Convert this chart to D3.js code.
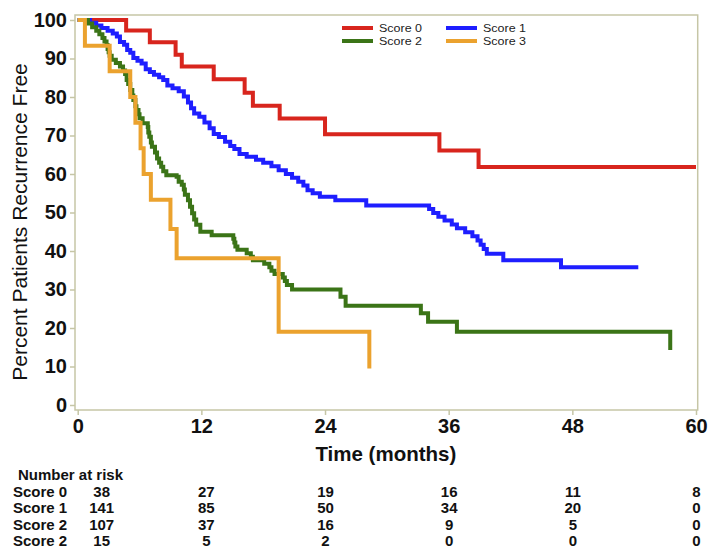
<!DOCTYPE html>
<html>
<head>
<meta charset="utf-8">
<script src="https://cdn.jsdelivr.net/npm/d3@7"></script>
<style>
  html, body { margin: 0; padding: 0; background: #ffffff; }
  svg { display: block; }
  text { font-family: "Liberation Sans", Arial, sans-serif; }
</style>
</head>
<body>
<svg id="chart" width="714" height="557"></svg>
<script>
// ---------------- DATA ----------------
const seriesNames = ["Score 0", "Score 1", "Score 2", "Score 3"];
const seriesColors = ["#d8251d", "#1e1eff", "#3b7417", "#eba22e"];

// Kaplan-Meier step points [time (months), percent recurrence free]
const score0 = [[0,100],[4.7,97.3],[7.0,94.2],[9.5,91.0],[10.1,87.9],[13.2,84.6],[16.2,81.1],[17.0,77.7],[19.6,74.4],[24.0,70.3],[35.1,66.1],[38.9,61.8],[60,61.8]];

const score1 = [[0,100],[1.2,99.3],[1.8,98.6],[2.3,97.9],[2.9,97.2],[3.4,96.5],[3.8,95.7],[4.1,94.3],[4.5,93.6],[4.8,92.2],[5.1,91.5],[5.4,90.1],[5.8,89.4],[6.2,88.7],[6.6,87.2],[7.0,86.5],[7.4,85.8],[7.9,85.1],[8.3,84.4],[8.7,83.0],[9.2,82.3],[9.8,81.5],[10.3,80.1],[10.7,78.6],[11.0,77.1],[11.3,75.7],[11.8,74.9],[12.3,73.4],[12.8,71.9],[13.2,70.4],[13.7,69.6],[14.3,68.4],[14.8,67.3],[15.2,66.5],[15.7,65.2],[16.4,64.5],[17.3,63.7],[18.0,62.9],[18.8,62.0],[19.5,61.0],[20.2,60.0],[20.8,59.0],[21.4,58.0],[21.9,57.0],[22.3,55.8],[22.8,55.0],[23.5,54.1],[25.0,53.2],[28.0,51.8],[34.1,50.9],[34.5,49.9],[35.0,48.9],[35.6,47.9],[36.3,46.9],[36.8,45.9],[37.6,44.9],[38.3,43.8],[38.8,42.7],[39.1,41.6],[39.4,40.5],[39.7,39.3],[41.3,37.6],[46.9,35.8],[54.4,35.8]];

const score2 = [[0,100],[1.0,99.1],[1.4,98.1],[1.8,97.2],[2.1,96.3],[2.4,95.3],[2.6,94.4],[2.8,93.5],[2.9,92.5],[3.0,91.6],[3.1,90.7],[3.3,89.7],[3.7,88.8],[4.1,87.9],[4.4,86.9],[4.6,86.0],[4.75,84.4],[4.9,83.4],[5.1,81.8],[5.3,80.4],[5.4,79.2],[5.6,77.6],[5.7,76.6],[5.9,75.5],[6.0,74.5],[6.3,73.2],[6.8,72.2],[6.85,70.8],[6.95,69.7],[7.1,68.2],[7.2,67.1],[7.5,65.6],[7.7,64.0],[7.9,62.9],[8.1,61.9],[8.3,60.7],[8.6,59.7],[9.6,59.3],[9.8,58.0],[10.1,57.2],[10.3,56.0],[10.4,54.6],[10.7,53.2],[10.9,51.5],[11.1,49.8],[11.3,48.2],[11.5,46.8],[11.9,45.0],[13.0,44.1],[15.1,43.2],[15.2,42.2],[15.3,41.2],[15.5,40.3],[16.4,39.4],[16.8,38.5],[17.0,37.6],[18.1,36.7],[18.6,35.8],[18.8,34.9],[19.1,34.0],[19.9,33.1],[20.1,32.2],[20.3,31.2],[20.8,30.0],[25.5,28.1],[26.0,25.8],[33.3,23.8],[34.0,21.6],[36.8,19.0],[57.5,14.3]];

const score3 = [[0,100],[0.7,93.3],[3.1,86.7],[5.1,80.0],[5.6,73.3],[6.1,66.7],[6.4,60.0],[7.1,53.3],[9.0,45.7],[9.6,38.1],[19.5,19.0],[28.3,9.5]];

const xTicks = [0, 12, 24, 36, 48, 60];
const yTicks = [0, 10, 20, 30, 40, 50, 60, 70, 80, 90, 100];

const riskTitle = "Number at risk";
const riskTimes = [0, 12, 24, 36, 48, 60];
const riskLabels = ["Score 0", "Score 1", "Score 2", "Score 2"];
const riskCounts = [
  [38, 27, 19, 16, 11, 8],
  [141, 85, 50, 34, 20, 0],
  [107, 37, 16, 9, 5, 0],
  [15, 5, 2, 0, 0, 0]
];

const xTitle = "Time (months)";
const yTitle = "Percent Patients Recurrence Free";

// ---------------- DRAW ----------------
const svg = d3.select("#chart");
const frameColor = "#c6c6a6";

const x = d3.scaleLinear().domain([0, 60]).range([77.7, 696]);
const y = d3.scaleLinear().domain([0, 100]).range([405, 20]);

// frame
const fx0 = x(0) - 2.7, fx1 = x(60) + 1.7, fy0 = y(100) - 5, fy1 = y(0) + 5;
svg.append("rect")
  .attr("x", fx0).attr("y", fy0)
  .attr("width", fx1 - fx0).attr("height", fy1 - fy0)
  .attr("fill", "none").attr("stroke", frameColor).attr("stroke-width", 1.5);

// y axis
const yAxis = d3.axisLeft(y).tickValues(yTicks).tickSize(5).tickPadding(3);
const gy = svg.append("g").attr("transform", `translate(${fx0},0)`).call(yAxis);
gy.select(".domain").remove();
gy.selectAll(".tick line").attr("stroke", frameColor).attr("stroke-width", 1.5);
gy.selectAll(".tick text")
  .attr("font-size", 20).attr("font-weight", "bold").attr("fill", "#111")
  .style("font-family", "'Liberation Sans', Arial, sans-serif");

// x axis
const xAxis = d3.axisBottom(x).tickValues(xTicks).tickSize(5).tickPadding(4);
const gx = svg.append("g").attr("transform", `translate(0,${fy1})`).call(xAxis);
gx.select(".domain").remove();
gx.selectAll(".tick line").attr("stroke", frameColor).attr("stroke-width", 1.5);
gx.selectAll(".tick text")
  .attr("font-size", 20).attr("font-weight", "bold").attr("fill", "#111")
  .style("font-family", "'Liberation Sans', Arial, sans-serif");

// axis titles
svg.append("text")
  .attr("x", (x(0) + x(60)) / 2 - 1).attr("y", 461)
  .attr("text-anchor", "middle")
  .attr("font-size", 20.5).attr("font-weight", "bold").attr("fill", "#111")
  .text(xTitle);

svg.append("text")
  .attr("transform", "translate(27,222) rotate(-90)")
  .attr("text-anchor", "middle")
  .attr("font-size", 21).attr("fill", "#111")
  .text(yTitle);

// curves
const line = d3.line()
  .x(d => x(d[0])).y(d => y(d[1]))
  .curve(d3.curveStepAfter);

const allSeries = [score0, score1, score2, score3];
[0, 1, 2, 3].forEach(i => {
  svg.append("path")
    .datum(allSeries[i])
    .attr("d", line)
    .attr("fill", "none")
    .attr("stroke", seriesColors[i])
    .attr("stroke-width", 4)
    .attr("stroke-linejoin", "miter")
    .attr("stroke-linecap", "butt");
});

// legend: Score 0, Score 1 (row 1); Score 2, Score 3 (row 2)
const legendPos = [
  {lx: 342, ly: 28}, {lx: 446, ly: 28},
  {lx: 342, ly: 41}, {lx: 446, ly: 41}
];
seriesNames.forEach((name, i) => {
  const p = legendPos[i];
  svg.append("line")
    .attr("x1", p.lx).attr("x2", p.lx + 31)
    .attr("y1", p.ly).attr("y2", p.ly)
    .attr("stroke", seriesColors[i]).attr("stroke-width", 4);
  svg.append("text")
    .attr("x", p.lx + 37).attr("y", p.ly + 4.2)
    .attr("font-size", 11.6).attr("fill", "#222")
    .attr("textLength", 43).attr("lengthAdjust", "spacingAndGlyphs")
    .text(name);
});

// number at risk table
svg.append("text")
  .attr("x", 18).attr("y", 480)
  .attr("font-size", 15).attr("font-weight", "bold").attr("fill", "#111")
  .text(riskTitle);

const rowY = [497, 513, 529.5, 546];
riskLabels.forEach((lab, r) => {
  svg.append("text")
    .attr("x", 13).attr("y", rowY[r])
    .attr("font-size", 15).attr("font-weight", "bold").attr("fill", "#111")
    .text(lab);
  riskCounts[r].forEach((v, c) => {
    const t = riskTimes[c];
    const cx = t === 0 ? x(0) + 24 : x(t) + (t === 12 ? 5 : 0.5);
    svg.append("text")
      .attr("x", cx).attr("y", rowY[r])
      .attr("text-anchor", "middle")
      .attr("font-size", 15).attr("font-weight", "bold").attr("fill", "#111")
      .text(v);
  });
});
</script>
</body>
</html>
